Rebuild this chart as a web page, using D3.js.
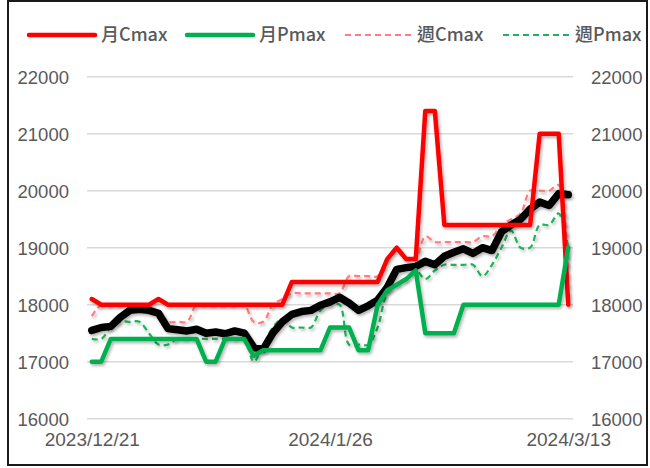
<!DOCTYPE html>
<html>
<head>
<meta charset="utf-8">
<script src="https://cdn.jsdelivr.net/npm/d3@7"></script>
<style>
  html, body { margin: 0; padding: 0; background: #fff; }
  svg { display: block; }
</style>
</head>
<body>
<div id="chart"></div>
<script>
// trading days shown on the category axis
const dates = [
  "2023/12/21", "2023/12/22", "2023/12/25", "2023/12/26", "2023/12/27", "2023/12/28", "2023/12/29",
  "2024/1/2", "2024/1/3", "2024/1/4", "2024/1/5", "2024/1/8", "2024/1/9", "2024/1/10", "2024/1/11",
  "2024/1/12", "2024/1/15", "2024/1/16", "2024/1/17", "2024/1/18", "2024/1/19", "2024/1/22",
  "2024/1/23", "2024/1/24", "2024/1/25", "2024/1/26", "2024/1/29", "2024/1/30", "2024/1/31",
  "2024/2/1", "2024/2/2", "2024/2/5", "2024/2/15", "2024/2/16", "2024/2/19", "2024/2/20",
  "2024/2/21", "2024/2/22", "2024/2/23", "2024/2/26", "2024/2/27", "2024/2/29", "2024/3/1",
  "2024/3/4", "2024/3/5", "2024/3/6", "2024/3/7", "2024/3/8", "2024/3/11", "2024/3/12", "2024/3/13"
];
const tickDates = ["2023/12/21", "2024/1/26", "2024/3/13"];
const yTicks = [16000, 17000, 18000, 19000, 20000, 21000, 22000];

// index price (black, no legend entry)
const price = [
  17550, 17600, 17620, 17780, 17900, 17920, 17900, 17850, 17580, 17560, 17540, 17570, 17500,
  17520, 17490, 17540, 17500, 17250, 17220, 17500, 17700, 17830, 17880, 17900, 17990, 18050,
  18130, 18030, 17900, 17980, 18080, 18300, 18620, 18650, 18670, 18760, 18700, 18850, 18920,
  18980, 18900, 19000, 18950, 19280, 19400, 19500, 19680, 19800, 19740, 19950, 19930
];
const monthC = [
  18100, 18000, 18000, 18000, 18000, 18000, 18000, 18100, 18000, 18000, 18000, 18000, 18000,
  18000, 18000, 18000, 18000, 18000, 18000, 18000, 18000, 18400, 18400, 18400, 18400, 18400,
  18400, 18400, 18400, 18400, 18400, 18800, 19000, 18800, 18800, 21400, 21400, 19400, 19400,
  19400, 19400, 19400, 19400, 19400, 19400, 19400, 19400, 21000, 21000, 21000, 18000
];
const monthP = [
  17000, 17000, 17400, 17400, 17400, 17400, 17400, 17400, 17400, 17400, 17400, 17400, 17000,
  17000, 17400, 17400, 17400, 17100, 17200, 17200, 17200, 17200, 17200, 17200, 17200, 17600,
  17600, 17600, 17200, 17200, 18000, 18250, 18350, 18450, 18600, 17500, 17500, 17500, 17500,
  18000, 18000, 18000, 18000, 18000, 18000, 18000, 18000, 18000, 18000, 18000, 19000
];
const weekC = [
  17800, 18000, 18000, 18000, 18000, 18000, 18000, 17850, 17700, 17700, 17700, 18000, 18000,
  18000, 18000, 18000, 18000, 17700, 17700, 18000, 18100, 18200, 18200, 18200, 18200, 18200,
  18200, 18500, 18500, 18500, 18500, 18800, 19000, 18800, 18800, 19200, 19100, 19100, 19100,
  19100, 19100, 19200, 19200, 19400, 19500, 19600, 20000, 20000, 20000, 20100, 18000
];
const weekP = [
  17400, 17400, 17600, 17700, 17700, 17700, 17500, 17300, 17300, 17400, 17400, 17400, 17400,
  17400, 17400, 17400, 17400, 17000, 17300, 17600, 17750, 17600, 17600, 17600, 17900, 18000,
  18000, 17300, 17300, 17300, 17600, 18200, 18350, 18450, 18600, 18450, 18600, 18700, 18700,
  18700, 18700, 18500, 18700, 19000, 19300, 19000, 19000, 19400, 19400, 19600, 19000
];

const width = 650, height = 468;
const plot = { left: 87, right: 573, top: 76.7, bottom: 418.7 };

const x = d3.scalePoint().domain(dates).range([plot.left, plot.right]).padding(0.5);
const y = d3.scaleLinear().domain([16000, 22000]).range([plot.bottom, plot.top]);

const svg = d3.select("#chart").append("svg")
  .attr("width", width)
  .attr("height", height)
  .style("font-family", "'Liberation Sans', Arial, sans-serif");

svg.append("rect")
  .attr("x", 8).attr("y", 1)
  .attr("width", 639).attr("height", 464)
  .attr("fill", "#fff")
  .attr("stroke", "#1a1a1a")
  .attr("stroke-width", 2);

const defs = svg.append("defs");
defs.append("filter")
  .attr("id", "shadow")
  .attr("filterUnits", "userSpaceOnUse")
  .attr("x", 0).attr("y", 0).attr("width", width).attr("height", height)
  .append("feDropShadow")
  .attr("dx", 1.5).attr("dy", 2)
  .attr("stdDeviation", 1.6)
  .attr("flood-color", "#000")
  .attr("flood-opacity", 0.3);

// gridlines
svg.append("g")
  .selectAll("line")
  .data(yTicks)
  .join("line")
  .attr("x1", plot.left).attr("x2", plot.right)
  .attr("y1", d => y(d)).attr("y2", d => y(d))
  .attr("stroke", "#d9d9d9")
  .attr("stroke-width", 1.5);

// left and right value axes (same range)
const axisLeft = svg.append("g")
  .attr("transform", `translate(${69},0)`)
  .call(d3.axisLeft(y).tickValues(yTicks).tickSize(0).tickPadding(0).tickFormat(d3.format("d")));
const axisRight = svg.append("g")
  .attr("transform", `translate(${591},0)`)
  .call(d3.axisRight(y).tickValues(yTicks).tickSize(0).tickPadding(0).tickFormat(d3.format("d")));
const axisBottom = svg.append("g")
  .attr("transform", `translate(0,${432})`)
  .call(d3.axisBottom(x).tickValues(tickDates).tickSize(0).tickPadding(0));

[axisLeft, axisRight, axisBottom].forEach(a => {
  a.select(".domain").remove();
  a.selectAll("text")
    .attr("fill", "#595959")
    .style("font-size", "18.5px")
    .style("font-family", "'Liberation Sans', Arial, sans-serif");
});
axisLeft.selectAll("text").attr("dy", "0.35em");
axisRight.selectAll("text").attr("dy", "0.35em");
axisBottom.selectAll("text").style("font-size", "19px");

const series = [
  { name: "週Cmax", values: weekC, color: "#ff7c80", width: 2.2, dash: "6,4", curve: d3.curveCatmullRom.alpha(0.5) },
  { name: "週Pmax", values: weekP, color: "#1fb25a", width: 2.2, dash: "6,4", curve: d3.curveCatmullRom.alpha(0.5) },
  { name: null, values: price, color: "#000000", width: 7.5, dash: null, curve: d3.curveLinear },
  { name: "月Cmax", values: monthC, color: "#ff0000", width: 4.5, dash: null, curve: d3.curveLinear },
  { name: "月Pmax", values: monthP, color: "#00b050", width: 4.5, dash: null, curve: d3.curveLinear }
];

series.forEach(s => {
  const line = d3.line()
    .x((d, i) => x(dates[i]))
    .y(d => y(d))
    .curve(s.curve);
  svg.append("path")
    .datum(s.values)
    .attr("d", line)
    .attr("fill", "none")
    .attr("stroke", s.color)
    .attr("stroke-width", s.width)
    .attr("stroke-dasharray", s.dash)
    .attr("stroke-linejoin", "round")
    .attr("stroke-linecap", s.dash ? "butt" : "round")
    .attr("filter", "url(#shadow)");
});

// legend
const legendItems = [
  { name: "月Cmax", color: "#ff0000", width: 4.5, dash: null },
  { name: "月Pmax", color: "#00b050", width: 4.5, dash: null },
  { name: "週Cmax", color: "#ff7c80", width: 2.2, dash: "6,4" },
  { name: "週Pmax", color: "#1fb25a", width: 2.2, dash: "6,4" }
];
const legend = svg.append("g")
  .selectAll("g")
  .data(legendItems)
  .join("g")
  .attr("transform", (d, i) => `translate(${29 + i * 158},35)`);

legend.append("line")
  .attr("x1", 0).attr("x2", 66)
  .attr("stroke", d => d.color)
  .attr("stroke-width", d => d.width)
  .attr("stroke-dasharray", d => d.dash)
  .attr("stroke-linecap", d => d.dash ? "butt" : "round");

legend.append("text")
  .attr("x", 72)
  .attr("dy", "0.35em")
  .attr("fill", "#595959")
  .style("font-size", "18px")
  .style("font-weight", "500")
  .style("font-family", "'Noto Sans CJK TC', 'Noto Sans', sans-serif")
  .text(d => d.name);
</script>
</body>
</html>
